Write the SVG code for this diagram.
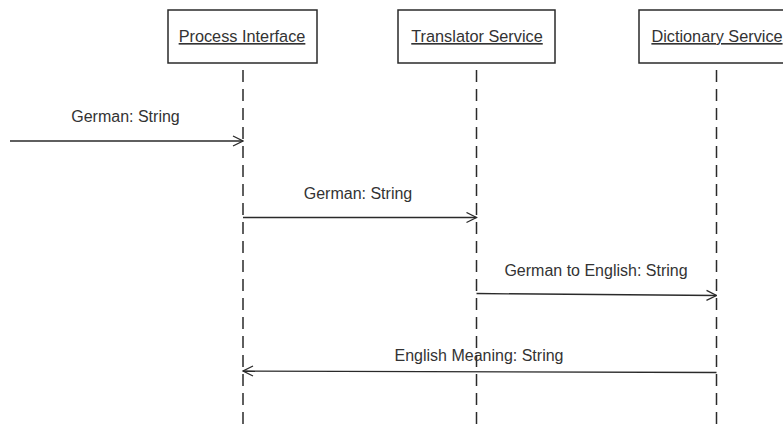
<svg xmlns="http://www.w3.org/2000/svg" width="783" height="430" viewBox="0 0 783 430">
  <defs>
    <marker id="open-arrow" viewBox="0 0 12 12" refX="11" refY="6" markerWidth="12" markerHeight="12" markerUnits="userSpaceOnUse" orient="auto">
      <path d="M1,1 L11,6 L1,11" fill="none" stroke="#2a2a2a" stroke-width="1.3"/>
    </marker>
  </defs>
  <style>
    .box { fill: #ffffff; stroke: #2a2a2a; stroke-width: 1.5; }
    .title { font-family: "Liberation Sans", Arial, sans-serif; font-size: 16.3px; fill: #333333; text-anchor: middle; text-decoration: underline; }
    .life { stroke: #2a2a2a; stroke-width: 1.5; stroke-dasharray: 12 7; fill: none; }
    .msg { stroke: #2a2a2a; stroke-width: 1.3; fill: none; marker-end: url(#open-arrow); }
    .label { font-family: "Liberation Sans", Arial, sans-serif; font-size: 16px; fill: #333333; text-anchor: middle; }
  </style>
  <rect width="783" height="430" fill="#ffffff"/>

  <!-- lifelines -->
  <g id="lifelines">
    <line class="life" x1="243" y1="70" x2="243" y2="430"/>
    <line class="life" x1="476.5" y1="70" x2="476.5" y2="430"/>
    <line class="life" x1="716.5" y1="70" x2="716.5" y2="430"/>
  </g>

  <g id="process-interface">
    <rect class="box" x="168" y="10" width="149" height="53"/>
    <text class="title" x="242" y="42">Process Interface</text>
  </g>
  <g id="translator-service">
    <rect class="box" x="398" y="10" width="157" height="53"/>
    <text class="title" x="477" y="42">Translator Service</text>
  </g>
  <g id="dictionary-service">
    <rect class="box" x="639" y="10" width="156" height="53"/>
    <text class="title" x="717" y="42">Dictionary Service</text>
  </g>

  <!-- messages -->
  <g id="connectors">
    <line class="msg" x1="10" y1="141" x2="243" y2="141"/>
    <line class="msg" x1="243" y1="217.5" x2="476.5" y2="217.5"/>
    <line class="msg" x1="476.5" y1="293.5" x2="716.5" y2="295.5"/>
    <line class="msg" x1="716.5" y1="372.5" x2="243" y2="371"/>
  </g>

  <g id="labels">
    <text class="label" x="125.5" y="122">German: String</text>
    <text class="label" x="358" y="199">German: String</text>
    <text class="label" x="596" y="276">German to English: String</text>
    <text class="label" x="479" y="361">English Meaning: String</text>
  </g>
</svg>
